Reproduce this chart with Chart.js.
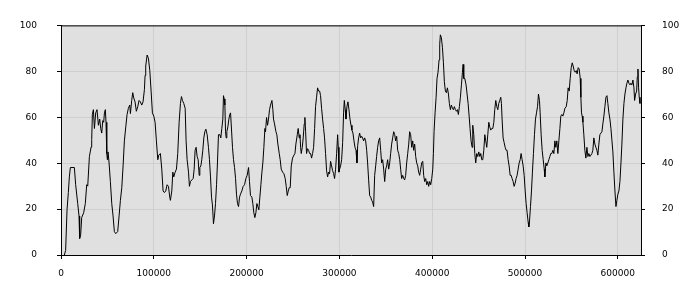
<!DOCTYPE html>
<html>
<head>
<meta charset="utf-8">
<style>
  html, body { margin: 0; padding: 0; background: #fff; }
  #wrap { width: 700px; height: 300px; position: relative; }
</style>
<script src="https://cdn.jsdelivr.net/npm/chart.js@4/dist/chart.umd.min.js"></script>
</head>
<body>
<div id="wrap"><canvas id="lineChart" width="700" height="300"></canvas></div>
<script>
// ── Data ──
const xs = [
  3600, 5000, 6500, 7900, 9000, 10100, 14400, 15800, 18000, 19400, 20100, 21200, 22300, 24400, 26200, 27700, 28800,
  30600, 32400, 33100, 33800, 34900, 36000, 37400, 38800, 40300, 41700, 42800, 43900, 45000, 46000, 46800, 47800,
  48500, 49300, 50000, 50700, 51800, 53200, 54700, 56100, 57500, 59000, 61100, 62600, 64000, 65500, 66900, 68300,
  69800, 71200, 72600, 74100, 74800, 76200, 77300, 78400, 79800, 81200, 82700, 84100, 85500, 87000, 88400, 89900,
  90600, 91300, 92800, 94200, 95700, 97100, 98500, 100000, 101400, 102800, 104300, 105400, 107100, 108600, 110000, 111400,
  112900, 114300, 115800, 117200, 117900, 119400, 120500, 121500, 123000, 124400, 125800, 127300, 128700, 129800, 130900,
  132300, 133800, 134800, 135900, 137400, 138400, 139500, 141000, 142400, 143500, 144500, 145600, 146700, 147800, 148900,
  149600, 150700, 151700, 152800, 153900, 155000, 156100, 157500, 158900, 160000, 161100, 162200, 163200, 164300, 165400,
  166500, 167600, 168600, 169700, 171200, 172200, 173300, 174400, 175100, 175800, 176600, 177300, 178000, 178700, 179800,
  180900, 181900, 182700, 183400, 184800, 185900, 187000, 188100, 189100, 190200, 191300, 192400, 193400, 194900, 196300,
  197800, 199200, 200600, 202100, 203100, 204200, 205700, 206700, 207800, 208900, 210000, 211100, 212100, 213200, 214300,
  215400, 216500, 217500, 218600, 219700,
  220400, 221500, 222600, 223600, 224700, 225800, 227300, 228300, 229000, 230100, 231600, 232600, 233700, 235200, 236200,
  237300, 238800, 240200, 241600, 242700, 243800, 244900, 245900, 247000, 248100, 249500, 251000, 252100, 253100, 254600,
  255600, 256700, 257500, 258200, 258900, 260000, 261000, 262100, 262800, 263600, 264600, 265700, 266800, 267900, 269000,
  270000, 271100, 272200, 273300, 274300, 275400, 276500, 277600, 278700, 279700, 280800, 281900, 283000, 284000, 285100,
  286200, 287300, 288400, 289400, 290500, 291600, 292700, 293800, 294800, 295900, 297000, 298100, 298800, 299500, 300200,
  301300, 302400, 303500, 304500, 305300, 306300, 307100, 308100, 309200, 310300, 311400, 312500, 313500, 314600, 315700,
  316800, 317900, 318900, 319700, 320700, 321800, 322900, 324000, 325000, 326100, 327200,
  328300, 329400, 330400, 331500, 332600, 333700, 334800, 335800, 336900, 338000, 339100, 340100, 341200, 342300, 343400,
  344500, 345500, 346600, 347700, 348800, 349900, 350900, 352000, 353100, 354200, 355200, 356300, 357400, 358500, 359600,
  360600, 361700, 362800, 363900, 365000, 366000, 367100, 368200, 369300, 370300, 371400, 372500, 373600, 374700, 375700,
  376800, 377900, 379000, 380000, 381100, 382200, 383300, 384400, 385400, 386500, 387600, 388700, 389800, 390800, 391900,
  393000, 394100, 395200, 396200, 397300, 398400, 399500, 400600, 401300, 402000, 403100, 404200, 405200, 406300, 407400,
  408100, 408800, 409900, 411000, 412100, 413100, 414200, 415300, 416400, 417500, 418500, 419600, 420700, 421800, 422800,
  423900, 425000, 426100, 427200, 428200, 429300, 430400, 431500, 432600, 433300, 434000, 435100,
  436500, 437600, 438700, 439800, 440800, 441900, 443000, 443700, 444800, 445900, 446900, 448000, 449100, 450200, 451300,
  452300, 453400, 454500, 455600, 456700, 457700, 458800, 459900, 461000, 462000, 463100, 464200, 465300, 466400, 467400,
  468500, 469600, 470700, 471700, 472800, 473900, 474600, 475300, 476400, 477500, 478600, 479700, 480700, 481800, 482900,
  484000, 485100, 486100, 487200, 488300, 489400, 490400, 491500, 492600, 493700, 494800, 495800, 496900, 498000, 499100,
  500200, 501200, 502300, 503400, 504100, 504800, 505900, 507000, 508000, 509100, 510200, 511300, 512400, 513500, 514500,
  515600, 516300, 517400, 518500, 519600, 520700, 521400, 522500, 523500, 524600, 525700, 526800, 527800, 528900, 530000,
  531100, 532200, 533200, 534300, 535400, 536500, 537600, 538600, 539700, 540800, 541900, 543000,
  544400, 545500, 546500, 547600, 548700, 549800, 550900, 551900, 553000, 554100, 555200, 556200, 557300, 558400, 559500,
  560200, 560900, 561600, 562400, 563400, 564500, 565600, 566700, 567800, 568800, 569900, 571000, 572100, 573100, 574200,
  575300, 576400, 577500, 578500, 579600, 580700, 581800, 582900, 583900, 585000, 586100, 587200, 588300, 589300, 590400,
  591500, 592600, 593700, 594700, 595800, 596900, 598000, 599000, 600100, 601200, 602300, 603400, 604400, 605500, 606600,
  607700, 608800, 609800, 610900, 612000, 613100, 614100, 615200, 616300, 617400, 618100, 619200, 620300, 621000, 621700,
  622400, 623100, 623900
];

const ys = [
  0, 2, 19.7, 27.2, 34, 38.1, 38.1, 30.6, 22.4, 17, 7.2, 8.8, 16.3, 18.4, 22.4, 30.6, 30,
  42.9, 47, 50.3, 61.2, 63.3, 55.1, 61.9, 63.3, 56.5, 59.2, 55.1, 53.1, 58.5, 57.8, 61.9, 63.3,
  57.8, 44.2, 41.5, 44.9, 40.1, 32, 22.4, 17, 10.2, 9.3, 10.2, 17, 23.8, 29.3, 38.8, 49.7,
  55.8, 61.2, 63.9, 65.3, 61.6, 67.3, 70.7, 68.4, 66.7, 62.6, 64.6, 67.3, 66.7, 65.3, 66.7, 72.1,
  78.2, 82.3, 87.1, 85.7, 80.3, 71.4, 61.9, 60.5, 57.8, 49.7, 41.5, 43.5, 44.2, 37.4, 27.9, 27.2,
  27.9, 30.6, 29.9, 25.2, 23.8, 27.9, 36.1, 34, 36.1, 37.4, 44.2, 57.8, 66, 69, 67.3,
  66, 63.9, 49.7, 41.5, 36.1, 29.9, 32, 32.7, 33.3, 37.4, 45.6, 46.9, 42.9, 41.5, 34.7,
  38.1, 38.8, 41.5, 45.6, 51, 53.7, 54.8, 52.4, 46.9, 41.5, 34, 25.2, 21.8, 13.6, 17,
  22.4, 30.6, 40.1, 52.4, 52.4, 51, 55.1, 59.2, 69.4, 68, 65.3, 53.7, 51, 53.7, 55.8,
  59.2, 61.2, 61.9, 57.1, 46.9, 41.5, 38.1, 33.3, 26.5, 22.4, 21.1, 25.2, 26.5, 27.9, 29.9,
  30.6, 33.3, 34.7, 38.1, 32, 25.9, 25.2, 22.4, 18.4, 16.3, 18.4, 22.4, 21.1, 19.7, 25.2,
  30.6, 36.1, 40.1, 46.9, 55.1,
  53.7, 59.9, 56.5, 59.2, 63.3, 65.3, 67.3, 63.3, 59.2, 57.1, 53.7, 52.4, 48.3, 44.2, 41.5,
  37.4, 36.1, 35.4, 33.3, 29.9, 25.9, 27.9, 29.3, 29.3, 38.8, 42.2, 43.5, 44.2, 48.3, 52.4,
  55.1, 51, 52.4, 46.9, 44.2, 46.9, 51, 57.1, 59.9, 53.7, 44.2, 46.3, 45.6, 44.2, 44.2,
  42.2, 44.2, 46.9, 55.1, 64.6, 68.7, 72.8, 71.4, 71.4, 69.4, 63.9, 59.2, 55.1, 51, 44.2,
  36.7, 34, 36.1, 35.4, 40.8, 38.8, 36.7, 35.4, 33.3, 37.4, 44.2, 52.4, 46.9, 36.1, 37.4,
  38.8, 41.5, 49, 61.9, 67.3, 63.3, 59.2, 64.6, 66.7, 63.3, 59.2, 56.5, 54.4, 53.1, 49.7,
  46.9, 45.6, 40.1, 47.6, 51, 53.1, 51, 51.7, 51, 49.7, 51,
  49.7, 45.6, 40.1, 32.7, 25.9, 25.2, 23.8, 23.1, 21.1, 34.7, 38.8, 42.9, 46.9, 49.7, 51,
  45.6, 40.1, 41.5, 37.4, 32, 37.4, 38.8, 41.5, 37.4, 40.1, 44.2, 48.3, 51, 53.7, 52.4,
  49.7, 51.7, 45.6, 44.2, 41.5, 37.4, 33.3, 34.7, 33.3, 32.7, 34.7, 40.1, 44.2, 48.3, 53.7,
  52.4, 46.9, 49.7, 45.6, 48.3, 42.9, 40.1, 38.8, 36.1, 34.7, 37.4, 40.1, 40.8, 34.7, 32,
  33.3, 30.6, 32, 29.9, 32, 30.6, 33.3, 37.4, 44.2, 53.7, 61.9, 68.7, 76.9, 79.6, 85,
  91.8, 95.9, 94.6, 90.5, 83.7, 75.5, 71.4, 70.7, 72.8, 70.1, 66, 63.3, 65.3, 63.9, 63.3,
  64.6, 63.3, 62.6, 63.3, 61.2, 64.6, 68.7, 74.1, 79.6, 83, 76.9, 76.9,
  74.1, 70.1, 66, 60.5, 55.1, 49.7, 46.9, 56.5, 52.4, 44.2, 40.1, 44.2, 42.9, 44.9, 42.9,
  44.2, 41.5, 41.5, 45.6, 52.4, 49.7, 46.9, 52.4, 57.8, 55.8, 54.4, 55.1, 55.1, 57.8, 63.3,
  67.3, 64.6, 63.3, 66, 67.3, 68.7, 66, 59.2, 51, 49, 46.9, 45.6, 45.6, 41.5, 38.8,
  34.7, 34.7, 33.3, 32, 29.9, 31.3, 33.3, 34.7, 37.4, 40.1, 41.5, 44.2, 41.5, 38.8, 34.7,
  27.9, 22.4, 18.4, 14.3, 12.2, 14.3, 21.1, 27.9, 36.1, 44.2, 52.4, 59.2, 61.9, 64.6, 70.1,
  67.3, 61.9, 52.4, 45.6, 41.5, 37.4, 34, 40.1, 38.8, 40.1, 41.5, 42.9, 44.2, 44.2, 45.6,
  44.2, 49.7, 46.9, 49.7, 44.2, 49.7, 55.1, 60.5, 61.2, 60.5, 61.9, 63.9,
  64.6, 67.3, 72.8, 71.4, 76.9, 81.6, 83.7, 82.3, 80.3, 79.6, 80.3, 78.9, 81.6, 81, 76.9,
  68.7, 61.9, 60.5, 57.8, 52.4, 45.6, 42.2, 46.9, 42.9, 44.2, 42.9, 43.5, 44.2, 45.6, 51,
  48.3, 46.9, 45.6, 43.5, 48.3, 52.4, 53.1, 53.7, 57.1, 60.5, 64.6, 68.7, 69.4, 66, 61.9,
  59.2, 55.1, 49.7, 44.9, 36.1, 27.9, 21.1, 23.8, 26.5, 27.9, 32, 40.1, 48.3, 59.2, 66,
  70.1, 72.8, 74.8, 76.2, 74.8, 74.1, 74.8, 74.1, 76.2, 72.8, 67.3, 70.1, 71.4, 77.6, 81,
  72.8, 68.7, 66
];

const yTicks = [0, 20, 40, 60, 80, 100];
const xTicks = [0, 100000, 200000, 300000, 400000, 500000, 600000];
const xMax = 625000;

// ── Plot frame + background ──
const framePlugin = {
  id: 'frame',
  beforeDraw(chart) {
    const { ctx, chartArea: a } = chart;
    ctx.save();
    ctx.fillStyle = '#e0e0e0';
    ctx.fillRect(a.left, a.top, a.right - a.left, a.bottom - a.top);
    ctx.restore();
  },
  afterDraw(chart) {
    const { ctx, chartArea: a } = chart;
    ctx.save();
    ctx.strokeStyle = '#000';
    ctx.lineWidth = 1;
    ctx.beginPath();
    ctx.moveTo(a.left, a.top + 0.5);
    ctx.lineTo(a.right, a.top + 0.5);
    ctx.stroke();
    ctx.restore();
  }
};

const font = { family: 'DejaVu Sans', size: 9 };

function yAxis(pos, width, pad, showGrid) {
  return {
    type: 'linear',
    position: pos,
    min: 0,
    max: 100,
    afterFit: s => { s.width = width; },
    afterBuildTicks: s => { s.ticks = yTicks.map(v => ({ value: v })); },
    grid: {
      display: true,
      drawOnChartArea: showGrid,
      color: '#cfcfcf',
      tickColor: '#000',
      tickLength: 4
    },
    border: { color: '#000', width: 1 },
    ticks: { color: '#000', font, padding: pad }
  };
}

new Chart(document.getElementById('lineChart'), {
  type: 'line',
  data: {
    datasets: [{
      data: xs.map((x, i) => ({ x, y: ys[i] })),
      borderColor: '#000',
      borderWidth: 1,
      pointRadius: 0,
      tension: 0,
      fill: false
    }]
  },
  options: {
    responsive: false,
    animation: false,
    layout: { padding: { top: 10, left: 0, right: 0, bottom: 0 } },
    plugins: { legend: { display: false }, tooltip: { enabled: false } },
    scales: {
      x: {
        type: 'linear',
        min: 0,
        max: xMax,
        afterFit: s => { s.height = 45; },
        afterBuildTicks: s => { s.ticks = xTicks.map(v => ({ value: v })); },
        grid: { color: '#cfcfcf', tickColor: '#000', tickLength: 4 },
        border: { color: '#000', width: 1 },
        ticks: { color: '#000', font, padding: 9, maxRotation: 0, autoSkip: false, callback: v => String(v) }
      },
      y: yAxis('left', 61, 20, true),
      y2: yAxis('right', 59, 17, false)
    }
  },
  plugins: [framePlugin]
});
</script>
</body>
</html>
